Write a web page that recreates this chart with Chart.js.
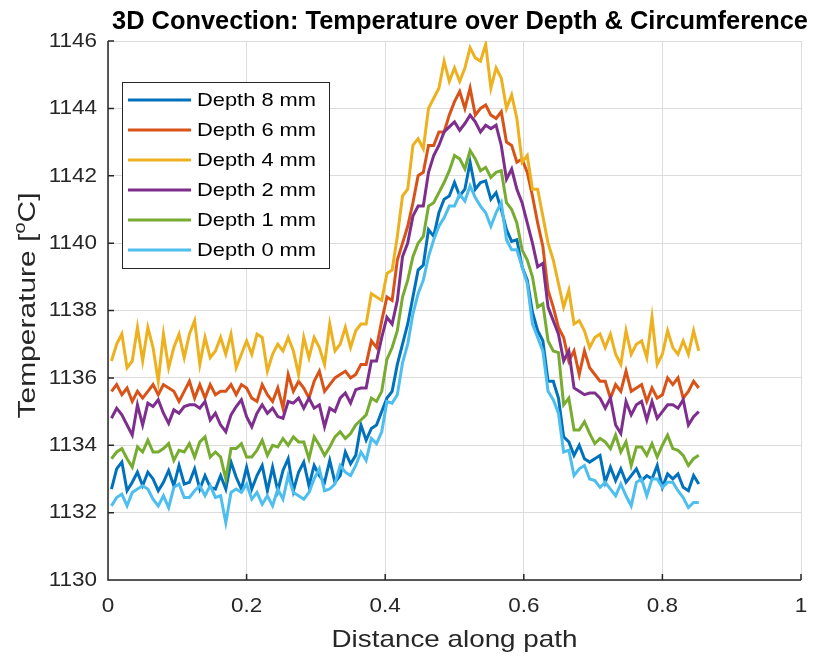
<!DOCTYPE html>
<html>
<head>
<meta charset="utf-8">
<script src="https://cdn.jsdelivr.net/npm/chart.js@4.4.1/dist/chart.umd.min.js"></script>
<style>
  html, body { margin: 0; background: #fff; }
</style>
</head>
<body>
<canvas id="chart" width="840" height="662"></canvas>
<script>
// --- data ---
const distance = [
  0.005, 0.0125, 0.02, 0.0275, 0.035, 0.0425, 0.05, 0.0575, 0.065, 0.0725,
  0.08, 0.0875, 0.095, 0.1025, 0.11, 0.1175, 0.125, 0.1325, 0.14, 0.1475,
  0.155, 0.1625, 0.17, 0.1775, 0.185, 0.1925, 0.2, 0.2075, 0.215, 0.2225,
  0.23, 0.2375, 0.245, 0.2525, 0.26, 0.2675, 0.275, 0.2825, 0.29, 0.2975,
  0.305, 0.3125, 0.32, 0.3275, 0.335, 0.3425, 0.35, 0.3575, 0.365, 0.3725,
  0.38, 0.3875, 0.395, 0.4025, 0.41, 0.4175, 0.425, 0.4325, 0.44, 0.4475,
  0.455, 0.4625, 0.47, 0.4775, 0.485, 0.4925, 0.5, 0.5075, 0.515, 0.5225,
  0.53, 0.5375, 0.545, 0.5525, 0.56, 0.5675, 0.575, 0.5825, 0.59, 0.5975,
  0.605, 0.6125, 0.62, 0.6275, 0.635, 0.6425, 0.65, 0.6575, 0.665, 0.6725,
  0.68, 0.6875, 0.695, 0.7025, 0.71, 0.7175, 0.725, 0.7325, 0.74, 0.7475,
  0.755, 0.7625, 0.77, 0.7775, 0.785, 0.7925, 0.8, 0.8075, 0.815, 0.8225,
  0.83, 0.8375, 0.845, 0.8525
];

const depth8 = [
  1132.7, 1133.3, 1133.5, 1132.65, 1132.9, 1133.2, 1132.8, 1133.2, 1133.0, 1132.65,
  1132.9, 1133.25, 1132.8, 1133.4, 1132.85, 1132.9, 1133.3, 1132.7, 1133.1, 1132.75,
  1132.7, 1133.1, 1132.7, 1133.5, 1133.05, 1132.7, 1133.35, 1132.7, 1133.1, 1133.4,
  1132.65, 1133.35, 1132.65, 1133.25, 1133.6, 1132.65, 1133.2, 1133.5, 1132.8, 1133.4,
  1133.1, 1132.9, 1133.55, 1132.9, 1133.1, 1133.8, 1133.45, 1133.7, 1134.6, 1134.15,
  1134.5, 1134.6, 1135.0, 1135.4, 1135.6, 1136.4, 1137.0, 1137.6, 1138.4, 1139.2,
  1139.35, 1140.4, 1140.2, 1140.9, 1141.3, 1141.4, 1141.8, 1141.4, 1141.6, 1142.4,
  1141.6, 1141.8, 1141.85, 1141.3, 1141.5, 1141.0, 1140.4, 1140.05, 1140.1, 1139.3,
  1138.9, 1137.95, 1137.4, 1137.1, 1135.9, 1135.9, 1135.4, 1134.25, 1134.1, 1133.7,
  1134.0, 1133.6, 1133.5, 1133.6, 1133.7, 1132.9, 1133.35, 1132.95, 1133.3, 1132.9,
  1133.1, 1133.3, 1132.95, 1133.1, 1133.0, 1133.4, 1132.75, 1133.15, 1133.0, 1133.15,
  1132.75, 1132.65, 1133.1, 1132.85
];

const depth6 = [
  1135.6, 1135.8, 1135.5, 1135.7, 1135.3, 1135.6, 1135.4, 1135.6, 1135.8, 1135.5,
  1135.8, 1135.7, 1135.6, 1135.3, 1135.6, 1135.9, 1135.4, 1135.8, 1135.4, 1135.8,
  1135.5, 1135.6, 1135.6, 1135.8, 1135.5, 1135.8, 1135.7, 1135.4, 1135.3, 1135.8,
  1135.5, 1135.3, 1135.7, 1135.1, 1136.1, 1135.6, 1135.9, 1135.7, 1135.4, 1135.9,
  1136.2, 1135.6, 1135.8, 1136.0, 1136.1, 1136.2, 1136.0, 1136.1, 1136.4, 1136.4,
  1137.1, 1136.9, 1137.7, 1138.4, 1138.3, 1139.5, 1140.0, 1140.5, 1141.2, 1142.0,
  1142.1, 1142.9, 1142.9, 1143.3, 1143.3, 1143.8, 1144.2, 1144.5, 1144.0, 1144.6,
  1143.8, 1144.0, 1144.1, 1143.8, 1143.7, 1143.9, 1143.0, 1142.9, 1142.4, 1142.5,
  1142.1, 1141.4, 1140.6, 1139.9, 1138.6, 1138.1, 1137.5, 1137.2, 1136.5, 1136.8,
  1136.1, 1136.8, 1136.3, 1136.1, 1135.9, 1135.9, 1135.4, 1135.8, 1135.6, 1136.2,
  1135.6, 1135.7, 1135.8, 1135.3, 1135.7, 1135.4, 1135.5, 1136.0, 1135.8, 1136.0,
  1135.4, 1135.6, 1135.9, 1135.7
];

const depth4 = [
  1136.5, 1137.0, 1137.3, 1136.3, 1136.5, 1137.5, 1136.5, 1137.5, 1136.9, 1135.9,
  1137.3, 1136.3, 1136.9, 1137.3, 1136.6, 1137.3, 1137.7, 1136.4, 1137.2, 1136.6,
  1136.8, 1137.2, 1136.7, 1137.3, 1136.3, 1136.7, 1137.1, 1136.7, 1137.3, 1137.2,
  1136.2, 1136.7, 1137.0, 1136.8, 1137.2, 1136.8, 1136.1, 1137.2, 1136.6, 1137.2,
  1136.9, 1136.4, 1137.6, 1136.8, 1137.0, 1137.5, 1136.9, 1137.4, 1137.6, 1137.6,
  1138.5, 1138.4, 1138.3, 1139.1, 1139.2, 1140.2, 1141.4, 1141.6, 1142.9, 1143.1,
  1142.8, 1144.0, 1144.3, 1144.6, 1145.4, 1144.8, 1145.2, 1144.8, 1145.2, 1145.8,
  1145.5, 1145.4, 1145.9, 1144.6, 1145.2, 1144.9, 1144.0, 1144.4, 1143.7, 1142.4,
  1142.6, 1141.6, 1141.6, 1140.8, 1140.0, 1139.5, 1138.8, 1138.1, 1138.6, 1137.6,
  1137.7, 1137.4, 1136.9, 1137.2, 1137.3, 1136.9, 1137.3, 1136.7, 1136.4, 1137.4,
  1136.7, 1137.0, 1137.1, 1136.6, 1137.8, 1136.4, 1136.7, 1137.4, 1136.9, 1136.7,
  1137.1, 1136.7, 1137.4, 1136.8
];

const depth2 = [
  1134.8, 1135.1, 1134.9, 1134.6, 1134.3, 1135.2, 1134.6, 1135.25, 1135.15, 1135.35,
  1134.95, 1134.65, 1135.05, 1134.95, 1135.15, 1135.2, 1135.2, 1135.1, 1135.3, 1134.75,
  1134.95, 1134.6, 1134.4, 1134.9, 1135.15, 1135.35, 1134.85, 1134.55, 1134.95, 1135.2,
  1134.95, 1135.1, 1134.85, 1134.8, 1135.3, 1135.25, 1135.4, 1135.1, 1135.4, 1135.1,
  1135.2, 1134.55, 1135.1, 1135.0, 1135.4, 1135.55, 1135.25, 1135.65, 1135.7, 1135.7,
  1136.5, 1136.5, 1137.2, 1137.8, 1137.6, 1138.3, 1139.6, 1140.0, 1140.8, 1141.1,
  1141.1, 1142.1, 1142.6, 1142.9, 1143.3, 1143.45, 1143.6, 1143.35, 1143.55, 1143.8,
  1143.6, 1143.3, 1143.5, 1143.4, 1143.5, 1142.9, 1141.9, 1142.2, 1141.6, 1141.2,
  1140.6, 1140.0, 1139.3, 1139.4, 1138.1, 1137.7, 1137.3, 1136.5, 1136.8, 1135.7,
  1135.6, 1135.5, 1135.55, 1135.55, 1135.4, 1135.1, 1135.4, 1134.6, 1134.35, 1135.3,
  1134.9, 1135.2, 1135.3, 1134.75, 1135.3, 1134.8, 1135.0, 1135.2, 1135.2, 1135.1,
  1135.35, 1134.6, 1134.85, 1135.0
];

const depth1 = [
  1133.6, 1133.8, 1133.9, 1133.6, 1133.35, 1133.95, 1133.8, 1134.15, 1133.8, 1133.8,
  1133.9, 1134.05, 1133.55, 1133.85, 1133.8, 1134.05, 1133.65, 1134.1, 1134.25, 1133.65,
  1133.8, 1133.65, 1133.0, 1133.9, 1133.9, 1134.05, 1133.65, 1133.65, 1133.85, 1134.15,
  1133.7, 1134.0, 1133.95, 1134.2, 1134.0, 1134.25, 1134.1, 1134.1, 1133.6, 1134.25,
  1134.0, 1133.7, 1133.95, 1134.25, 1134.4, 1134.2, 1134.35, 1134.6, 1134.75, 1134.9,
  1135.4, 1135.3, 1135.6, 1136.55, 1136.9, 1137.4, 1138.4, 1138.9, 1139.6, 1140.0,
  1140.2, 1141.1, 1141.2, 1141.5, 1141.8, 1142.15, 1142.6, 1142.5, 1142.2, 1142.75,
  1142.5, 1142.15, 1142.25, 1141.95, 1142.1, 1142.15, 1141.2, 1141.0, 1140.6, 1139.8,
  1139.5, 1139.0, 1138.1, 1138.2, 1137.1, 1136.8, 1136.75, 1135.2, 1135.4, 1134.45,
  1134.45, 1134.7, 1134.35, 1134.05, 1134.2, 1134.1, 1133.9, 1134.3, 1133.8, 1134.1,
  1133.4, 1133.95, 1133.95, 1133.7, 1134.05, 1133.65, 1134.0, 1134.3, 1133.9, 1133.85,
  1133.7, 1133.4, 1133.6, 1133.7
];

const depth0 = [
  1132.2, 1132.45, 1132.55, 1132.2, 1132.6, 1132.7, 1132.8, 1132.7, 1132.4, 1132.2,
  1132.5, 1132.15, 1132.75, 1132.85, 1132.45, 1132.45, 1132.65, 1132.8, 1132.5, 1132.8,
  1132.45, 1132.5, 1131.7, 1132.6, 1132.7, 1132.6, 1132.85, 1132.4, 1132.6, 1132.25,
  1132.5, 1132.2, 1132.7, 1132.4, 1133.1, 1132.6, 1132.5, 1132.4, 1132.6, 1133.0,
  1133.3, 1132.65, 1132.7, 1132.85, 1133.4, 1133.2, 1133.1, 1133.4, 1133.8, 1133.55,
  1134.2, 1134.05, 1134.4, 1135.3, 1135.25, 1135.5, 1136.45, 1137.0, 1137.9, 1138.5,
  1138.9, 1139.6, 1140.1, 1140.5, 1140.75, 1141.1, 1141.1, 1141.45, 1141.25, 1141.7,
  1141.35, 1141.1, 1140.9, 1140.5, 1140.9, 1141.2, 1140.1, 1139.8, 1139.8, 1139.3,
  1138.8, 1137.6, 1137.2, 1136.8, 1135.6, 1135.35, 1134.95, 1133.8, 1133.85, 1133.1,
  1133.3, 1133.4, 1133.0, 1132.95, 1132.75, 1132.9, 1132.7, 1132.5, 1132.85, 1132.5,
  1132.2, 1132.9, 1133.0, 1132.5, 1133.0, 1133.0, 1132.75, 1132.9, 1132.9, 1132.65,
  1132.45, 1132.15, 1132.3, 1132.3
];

const seriesLabels = ['Depth 8 mm', 'Depth 6 mm', 'Depth 4 mm', 'Depth 2 mm', 'Depth 1 mm', 'Depth 0 mm'];
const seriesValues = [depth8, depth6, depth4, depth2, depth1, depth0];
const colors = ['#0072BD', '#D95319', '#EDB120', '#7E2F8E', '#77AC30', '#4DBEEE'];

const xTicks = [0, 0.2, 0.4, 0.6, 0.8, 1];
const xTickLabels = ['0', '0.2', '0.4', '0.6', '0.8', '1'];
const yTicks = [1130, 1132, 1134, 1136, 1138, 1140, 1142, 1144, 1146];

const FONT = '"Liberation Sans", Arial, Helvetica, sans-serif';
const INK = '#262626';

// text with horizontal stretch (MATLAB's font runs a bit wider than Arial)
function drawText(ctx, s, x, y, size, o) {
    ctx.save();
    ctx.font = (o.bold ? 'bold ' : '') + size + 'px ' + FONT;
    ctx.fillStyle = o.color || INK;
    ctx.textAlign = o.align || 'center';
    ctx.textBaseline = o.base || 'middle';
    ctx.translate(x, y);
    let sx = o.sx || 1;
    if (o.width) sx = o.width / ctx.measureText(s).width;
    ctx.scale(sx, 1);
    ctx.fillText(s, 0, 0);
    ctx.restore();
}

const decor = {
    id: 'decor',
    afterDraw(chart) {
        const { ctx, chartArea: a, scales: { x, y } } = chart;
        ctx.save();

        // left + bottom axes with inward ticks
        ctx.strokeStyle = INK;
        ctx.lineWidth = 1.5;
        ctx.beginPath();
        ctx.moveTo(a.left, a.top);
        ctx.lineTo(a.left, a.bottom);
        ctx.lineTo(a.right, a.bottom);
        xTicks.forEach(v => {
            const px = x.getPixelForValue(v);
            ctx.moveTo(px, a.bottom);
            ctx.lineTo(px, a.bottom - 6);
        });
        yTicks.forEach(v => {
            const py = y.getPixelForValue(v);
            ctx.moveTo(a.left, py);
            ctx.lineTo(a.left + 6, py);
        });
        ctx.stroke();

        // tick labels
        yTicks.forEach(v => {
            drawText(ctx, String(v), a.left - 11, y.getPixelForValue(v), 21, { align: 'right', sx: 1.07 });
        });
        xTicks.forEach((v, i) => {
            drawText(ctx, xTickLabels[i], x.getPixelForValue(v), a.bottom + 26, 21, { sx: 1.07 });
        });

        // axis titles
        drawText(ctx, 'Distance along path', (a.left + a.right) / 2, a.bottom + 60, 24, { width: 246 });

        ctx.save();
        ctx.translate(35, (a.top + a.bottom) / 2 - 5);
        ctx.rotate(-Math.PI / 2);
        ctx.fillStyle = INK;
        ctx.textBaseline = 'alphabetic';
        ctx.textAlign = 'left';
        const p1 = 'Temperature [', p2 = 'o', p3 = 'C]';
        ctx.font = '24px ' + FONT;
        const w1 = ctx.measureText(p1).width, w3 = ctx.measureText(p3).width;
        ctx.font = '16px ' + FONT;
        const w2 = ctx.measureText(p2).width;
        const total = w1 + w2 + w3;
        ctx.scale(226 / total, 1);
        const x0 = -total / 2;
        ctx.font = '24px ' + FONT;
        ctx.fillText(p1, x0, 0);
        ctx.font = '16px ' + FONT;
        ctx.fillText(p2, x0 + w1, -10);
        ctx.font = '24px ' + FONT;
        ctx.fillText(p3, x0 + w1 + w2, 0);
        ctx.restore();

        // title
        drawText(ctx, '3D Convection: Temperature over Depth & Circumference', 460, 29, 25,
            { bold: true, color: '#000', base: 'alphabetic', width: 696 });

        // legend box, upper left inside the axes
        const lx = 122, ly = 82, lw = 207, lh = 186;
        ctx.fillStyle = '#fff';
        ctx.fillRect(lx, ly, lw, lh);
        ctx.strokeStyle = INK;
        ctx.lineWidth = 1;
        ctx.strokeRect(lx + 0.5, ly + 0.5, lw, lh);
        chart.data.datasets.forEach((ds, i) => {
            const ry = 100 + i * 30;
            ctx.strokeStyle = ds.borderColor;
            ctx.lineWidth = 3;
            ctx.beginPath();
            ctx.moveTo(128, ry);
            ctx.lineTo(191, ry);
            ctx.stroke();
            drawText(ctx, ds.label, 197, ry + 1, 19, { align: 'left', color: '#000', sx: 1.15 });
        });

        ctx.restore();
    }
};

const datasets = seriesValues.map((vals, i) => ({
    label: seriesLabels[i],
    data: distance.map((d, k) => ({ x: d, y: vals[k] })),
    borderColor: colors[i],
    backgroundColor: colors[i],
    borderWidth: 3,
    pointRadius: 0,
    tension: 0,
    fill: false,
    order: seriesValues.length - i   // later series drawn on top, as in MATLAB
}));

new Chart(document.getElementById('chart'), {
    type: 'line',
    data: { datasets },
    options: {
        responsive: false,
        animation: false,
        devicePixelRatio: 1,
        layout: { padding: { top: 41, right: 39, left: 0, bottom: 0 } },
        plugins: {
            legend: { display: false },
            tooltip: { enabled: false },
            title: { display: false }
        },
        scales: {
            x: {
                type: 'linear',
                min: 0,
                max: 1,
                afterFit: s => { s.height = 82; },
                afterBuildTicks: s => { s.ticks = xTicks.map(v => ({ value: v })); },
                ticks: { display: false },
                grid: { color: '#dcdcdc', lineWidth: 1, drawTicks: false },
                border: { display: false }
            },
            y: {
                min: 1130,
                max: 1146,
                afterFit: s => { s.width = 108; },
                afterBuildTicks: s => { s.ticks = yTicks.map(v => ({ value: v })); },
                ticks: { display: false },
                grid: { color: '#dcdcdc', lineWidth: 1, drawTicks: false },
                border: { display: false }
            }
        }
    },
    plugins: [decor]
});
</script>
</body>
</html>
